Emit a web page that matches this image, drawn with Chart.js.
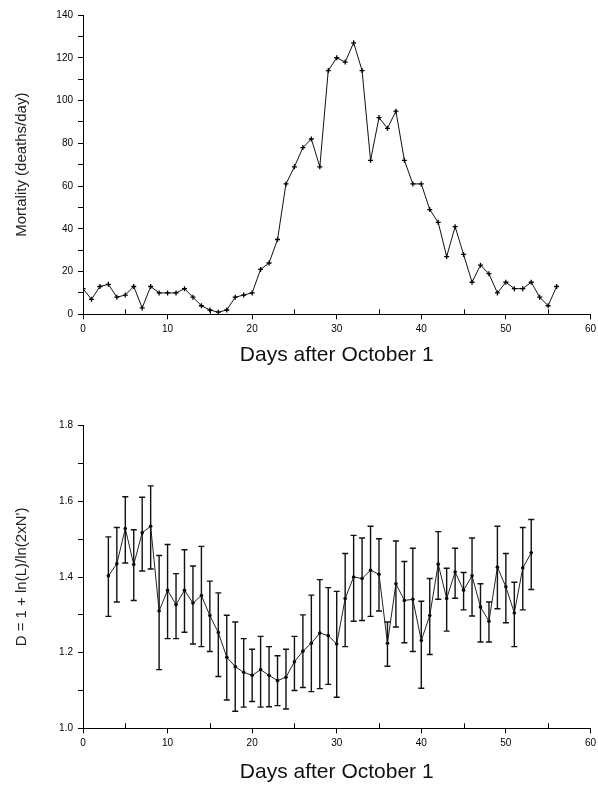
<!DOCTYPE html>
<html>
<head>
<meta charset="utf-8">
<script src="https://cdn.jsdelivr.net/npm/chart.js@4"></script>
<style>
  html, body { margin:0; padding:0; background:#fff; overflow:hidden; width:598px; height:787px; }
  .box { position:absolute; left:0; width:600px; }
  canvas { display:block; }
</style>
</head>
<body>
<div class="box" style="top:0;height:395px;"><canvas id="c1" width="600" height="395"></canvas></div>
<div class="box" style="top:395px;height:392px;"><canvas id="c2" width="600" height="392"></canvas></div>
<script>
// ---------- DATA ----------
const daysTop = [0,1,2,3,4,5,6,7,8,9,10,11,12,13,14,15,16,17,18,19,20,21,22,23,24,25,26,27,28,29,30,31,32,33,34,35,36,37,38,39,40,41,42,43,44,45,46,47,48,49,50,51,52,53,54,55,56];
const mortality = [12,7,13,14,8,9,13,3,13,10,10,10,12,8,4,2,1,2,8,9,10,21,24,35,61,69,78,82,69,114,120,118,127,114,72,92,87,95,72,61,61,49,43,27,41,28,15,23,19,10,15,12,12,15,8,4,13];

const daysBottom = [3,4,5,6,7,8,9,10,11,12,13,14,15,16,17,18,19,20,21,22,23,24,25,26,27,28,29,30,31,32,33,34,35,36,37,38,39,40,41,42,43,44,45,46,47,48,49,50,51,52,53];
const dimension = [1.403,1.435,1.528,1.433,1.517,1.534,1.31,1.365,1.327,1.365,1.331,1.351,1.298,1.253,1.188,1.163,1.148,1.14,1.155,1.14,1.126,1.135,1.176,1.204,1.225,1.252,1.245,1.223,1.343,1.4,1.396,1.418,1.407,1.225,1.382,1.338,1.341,1.232,1.298,1.434,1.343,1.413,1.365,1.403,1.321,1.283,1.426,1.374,1.305,1.424,1.464];
const dimensionHigh = [1.506,1.531,1.612,1.525,1.611,1.641,1.457,1.486,1.409,1.472,1.429,1.481,1.389,1.358,1.299,1.281,1.237,1.209,1.243,1.216,1.192,1.209,1.243,1.3,1.352,1.393,1.372,1.362,1.462,1.51,1.503,1.534,1.501,1.281,1.495,1.441,1.476,1.336,1.396,1.52,1.423,1.476,1.412,1.503,1.382,1.334,1.534,1.462,1.386,1.531,1.552];
const dimensionLow = [1.296,1.334,1.437,1.338,1.416,1.421,1.155,1.237,1.237,1.254,1.223,1.216,1.203,1.137,1.075,1.045,1.056,1.071,1.056,1.057,1.06,1.051,1.1,1.108,1.097,1.105,1.116,1.082,1.216,1.283,1.285,1.296,1.31,1.164,1.268,1.226,1.203,1.106,1.195,1.341,1.257,1.344,1.313,1.297,1.228,1.228,1.316,1.279,1.216,1.313,1.367];

const xTitle = 'Days after October 1';
const yTitleTop = 'Mortality (deaths/day)';
const yTitleBottom = "D = 1 + ln(L)/ln(2xN')";

// ---------- HELPERS ----------
const tickFont = { family: "'Liberation Sans', Arial, sans-serif", size: 10 };
const titleFontX = { family: "'Liberation Sans', Arial, sans-serif", size: 21 };
const titleFontY = { family: "'Liberation Sans', Arial, sans-serif", size: 15 };

const minorXTicks = {
  id: 'minorXTicks',
  afterDraw(chart) {
    const xs = chart.scales.x, ctx = chart.ctx;
    const bottom = chart.chartArea.bottom;
    ctx.save();
    ctx.strokeStyle = '#000';
    ctx.lineWidth = 1;
    for (let v = 5; v < xs.max; v += 10) {
      const px = Math.round(xs.getPixelForValue(v)) + 0.5;
      ctx.beginPath();
      ctx.moveTo(px, bottom);
      ctx.lineTo(px, bottom - 5);
      ctx.stroke();
    }
    ctx.restore();
  }
};

const errorBars = {
  id: 'errorBars',
  afterDatasetsDraw(chart, args, opts) {
    if (!opts || !opts.low) return;
    const xs = chart.scales.x, ys = chart.scales.y, ctx = chart.ctx;
    ctx.save();
    ctx.strokeStyle = '#111';
    ctx.lineWidth = 1.4;
    const cap = 3;
    opts.xs.forEach((d, i) => {
      const px = xs.getPixelForValue(d);
      const pl = ys.getPixelForValue(opts.low[i]);
      const ph = ys.getPixelForValue(opts.high[i]);
      ctx.beginPath();
      ctx.moveTo(px, pl); ctx.lineTo(px, ph);
      ctx.moveTo(px - cap, pl); ctx.lineTo(px + cap, pl);
      ctx.moveTo(px - cap, ph); ctx.lineTo(px + cap, ph);
      ctx.stroke();
    });
    ctx.restore();
  }
};

function xScale(height, titlePadBottom) {
  return {
    type: 'linear', min: 0, max: 60,
    afterFit: s => { s.height = height; },
    ticks: {
      stepSize: 5, autoSkip: false, maxRotation: 0, padding: 4,
      color: '#000', font: tickFont,
      callback: v => (v % 10 === 0 ? String(v) : '')
    },
    grid: {
      drawOnChartArea: false, drawTicks: true, tickLength: 5,
      color: '#000',
      tickColor: c => (c.tick && c.tick.value % 10 === 0 ? '#000' : 'rgba(0,0,0,0)')
    },
    border: { display: true, color: '#000', width: 1 },
    title: { display: true, text: xTitle, color: '#111', font: titleFontX,
             padding: { top: 0, bottom: titlePadBottom } }
  };
}

function yScale(min, max, step, labelFn, titleText) {
  return {
    type: 'linear', min, max,
    afterFit: s => { s.width = 83; },
    ticks: { stepSize: step, autoSkip: false, padding: 5, color: '#000', font: tickFont, callback: labelFn },
    grid: { drawOnChartArea: false, drawTicks: true, tickLength: 5, color: '#000', tickColor: '#000' },
    border: { display: true, color: '#000', width: 1 },
    title: { display: true, text: titleText, color: '#222', font: titleFontY, padding: { top: 13, bottom: 0 } }
  };
}

// ---------- CHART 1 ----------
new Chart(document.getElementById('c1'), {
  type: 'scatter',
  data: {
    datasets: [{
      data: daysTop.map((d, i) => ({ x: d, y: mortality[i] })),
      showLine: true,
      borderColor: '#111', borderWidth: 1,
      pointStyle: 'cross', pointRadius: 2.5, pointBorderColor: '#000', pointBorderWidth: 1.3,
      tension: 0
    }]
  },
  options: {
    responsive: false, animation: false, devicePixelRatio: 1,
    layout: { padding: { left: 0, right: 5.3, top: 15, bottom: 0 } },
    plugins: { legend: { display: false }, tooltip: { enabled: false } },
    scales: {
      x: xScale(395 - 314.3, 27),
      y: yScale(0, 140, 10, v => (v % 20 === 0 ? String(v) : ''), yTitleTop)
    }
  },
  plugins: [minorXTicks]
});

// ---------- CHART 2 ----------
new Chart(document.getElementById('c2'), {
  type: 'scatter',
  data: {
    datasets: [{
      data: daysBottom.map((d, i) => ({ x: d, y: dimension[i] })),
      showLine: true,
      borderColor: '#222', borderWidth: 1,
      pointRadius: 1.8, pointBackgroundColor: '#000', pointBorderColor: '#000', pointBorderWidth: 0,
      tension: 0
    }]
  },
  options: {
    responsive: false, animation: false, devicePixelRatio: 1,
    layout: { padding: { left: 0, right: 5.3, top: 30.7, bottom: 0 } },
    plugins: {
      legend: { display: false }, tooltip: { enabled: false },
      errorBars: { xs: daysBottom, low: dimensionLow, high: dimensionHigh }
    },
    scales: {
      x: xScale(392 - 333.3, 2.4),
      y: yScale(1.0, 1.8, 0.1, v => (Math.round(v * 10) % 2 === 0 ? v.toFixed(1) : ''), yTitleBottom)
    }
  },
  plugins: [minorXTicks, errorBars]
});
</script>
</body>
</html>
